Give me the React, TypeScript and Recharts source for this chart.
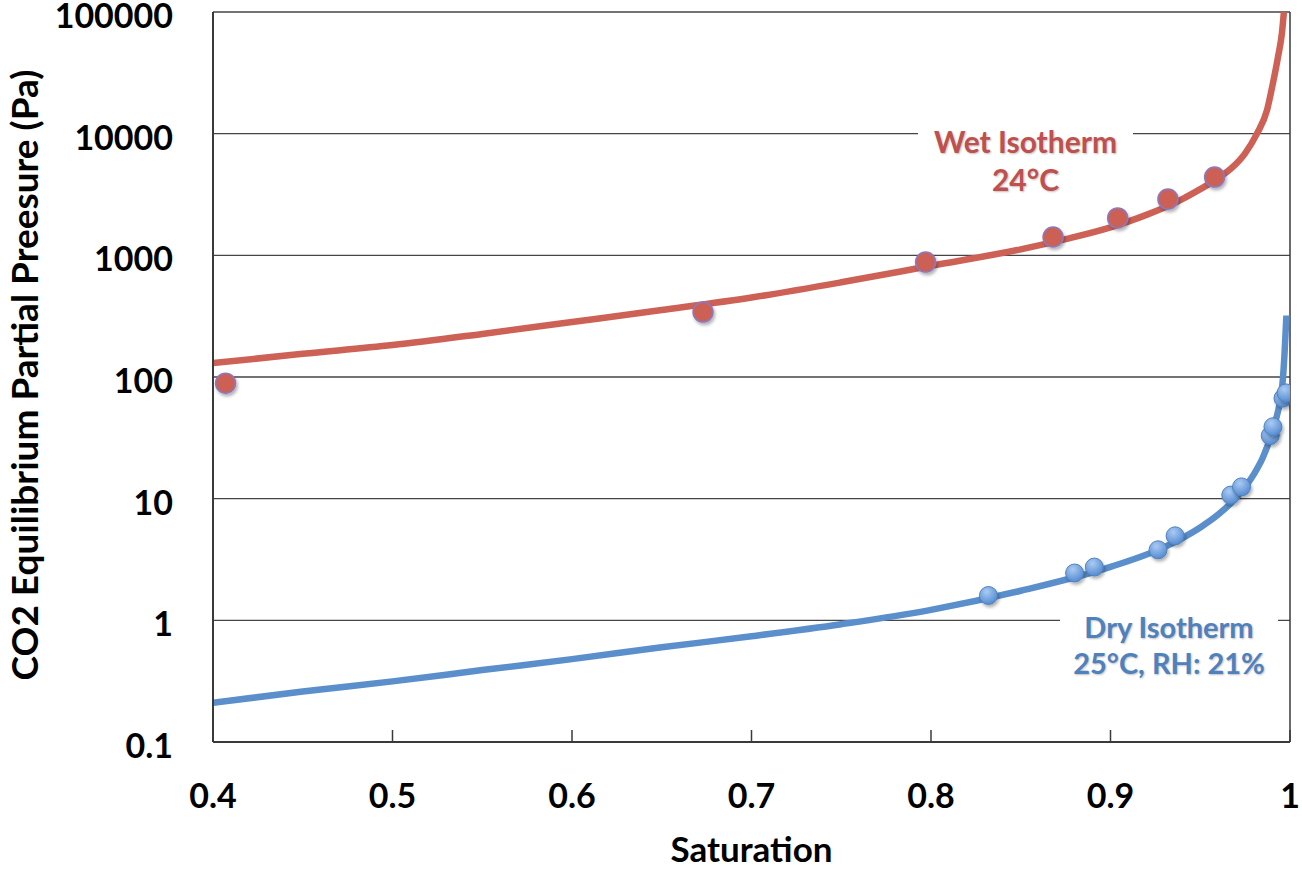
import { ComposedChart, Line, Scatter, XAxis, YAxis, CartesianGrid, ReferenceLine, Label } from "recharts";

// measured points
const wetSat = [0.407, 0.673, 0.797, 0.868, 0.904, 0.932, 0.958];
const wetPres = [89, 342, 880, 1415, 2030, 2900, 4400];

const drySat = [0.832, 0.88, 0.891, 0.9265, 0.936, 0.967, 0.973, 0.989, 0.9905, 0.9961, 0.9978];
const dryPres = [1.6, 2.45, 2.74, 3.8, 4.95, 10.7, 12.5, 33, 39, 67, 74];

// fitted isotherm curves
const wetCurveSat = [0.4, 0.45, 0.5, 0.55, 0.6, 0.65, 0.7, 0.75, 0.8, 0.85, 0.875, 0.9, 0.92, 0.94, 0.95, 0.96, 0.968, 0.975, 0.9816, 0.9872, 0.9905, 0.9933, 0.9955, 0.9966];
const wetCurvePres = [130, 155, 183, 226, 283, 355, 450, 600, 820, 1120, 1360, 1700, 2150, 2900, 3500, 4300, 5300, 6900, 10000, 15600, 26000, 42600, 67000, 100000];

const dryCurveSat = [0.4, 0.45, 0.5, 0.55, 0.6, 0.65, 0.7, 0.75, 0.8, 0.85, 0.9, 0.93, 0.95, 0.96, 0.97, 0.98, 0.985, 0.99, 0.993, 0.995, 0.996, 0.997, 0.998];
const dryCurvePres = [0.21, 0.26, 0.315, 0.39, 0.48, 0.6, 0.74, 0.93, 1.22, 1.75, 2.75, 4.0, 5.8, 7.4, 10.2, 16, 22, 35, 50, 70, 95, 160, 320];

const xTicks = [0.4, 0.5, 0.6, 0.7, 0.8, 0.9, 1];
const yTicks = [0.1, 1, 10, 100, 1000, 10000, 100000];

const zip = (s: number[], p: number[]) => s.map((v, i) => ({ s: v, p: p[i] }));
const wetPts = zip(wetSat, wetPres);
const dryPts = zip(drySat, dryPres);
const wetCurve = zip(wetCurveSat, wetCurvePres);
const dryCurve = zip(dryCurveSat, dryCurvePres);

const FONT = "Lato, 'Open Sans', sans-serif";
const AXIS = "#3a3a3a";
const WET = "#CD6155";
const DRY = "#5A8FCB";

const XTick = ({ x, y, payload }: any) => (
  <g>
    <line x1={x} x2={x} y1={y} y2={y - 12} stroke={AXIS} strokeWidth={1.5} />
    <text x={x} y={y + 66} textAnchor="middle" fontFamily={FONT} fontWeight={700} fontSize={34} fill="#000">
      {String(payload.value)}
    </text>
  </g>
);

const YTick = ({ x, y, payload }: any) => (
  <text x={x - 40} y={y + 16} textAnchor="end" fontFamily={FONT} fontWeight={700} fontSize={34} fill="#000">
    {String(payload.value)}
  </text>
);

const WetDot = (props: any) => (
  <circle cx={props.cx} cy={props.cy} r={10} fill={WET} stroke="#8C78BE" strokeWidth={1.5} filter="url(#dotShadow)" />
);

const DryDot = (props: any) => (
  <circle cx={props.cx} cy={props.cy} r={9} fill="url(#dryGrad)" stroke="#4F81BD" strokeWidth={1} filter="url(#dotShadow)" />
);

const labelStyle = {
  position: "absolute" as const,
  background: "#fff",
  textAlign: "center" as const,
  fontFamily: FONT,
  fontWeight: 700,
  textShadow: "1px 1px 2px rgba(0,0,0,0.25)",
};

export default function App() {
  return (
    <div style={{ position: "absolute", left: 0, top: 0, width: 1302, height: 870, background: "#fff" }}>
      <ComposedChart width={1302} height={870} margin={{ top: 12, right: 12, bottom: 0, left: 0 }}>
        <defs>
          <radialGradient id="dryGrad" cx="40%" cy="30%" r="75%">
            <stop offset="0%" stopColor="#A9CBF3" />
            <stop offset="100%" stopColor="#4F86CF" />
          </radialGradient>
          <filter id="dotShadow" x="-50%" y="-50%" width="200%" height="200%">
            <feDropShadow dx="1.5" dy="2.5" stdDeviation="1.8" floodColor="#000" floodOpacity="0.3" />
          </filter>
        </defs>
        <CartesianGrid vertical={false} stroke="#454545" strokeWidth={1.3} />
        <XAxis
          dataKey="s"
          type="number"
          domain={[0.4, 1]}
          ticks={xTicks}
          allowDataOverflow
          height={128}
          tickSize={0}
          tickMargin={0}
          tick={<XTick />}
          axisLine={{ stroke: AXIS, strokeWidth: 2 }}
        >
          <Label
            content={({ viewBox }: any) => (
              <text x={viewBox.x + viewBox.width / 2} y={viewBox.y + 120} textAnchor="middle" fontFamily={FONT} fontWeight={700} fontSize={35} fill="#000">
                Saturation
              </text>
            )}
          />
        </XAxis>
        <YAxis
          type="number"
          scale="log"
          domain={[0.1, 100000]}
          ticks={yTicks}
          allowDataOverflow
          width={213}
          tickSize={0}
          tickMargin={0}
          tick={<YTick />}
          axisLine={{ stroke: AXIS, strokeWidth: 2 }}
        >
          <Label
            content={({ viewBox }: any) => {
              const cx = 38;
              const cy = viewBox.y + viewBox.height / 2 - 2;
              return (
                <text x={cx} y={cy} transform={`rotate(-90, ${cx}, ${cy})`} textAnchor="middle" fontFamily={FONT} fontWeight={700} fontSize={37} fill="#000">
                  CO2 Equilibrium Partial Preesure (Pa)
                </text>
              );
            }}
          />
        </YAxis>
        <ReferenceLine x={1} stroke={AXIS} strokeWidth={1.5} />
        <Line data={wetCurve} dataKey="p" type="monotone" stroke={WET} strokeWidth={6.5} dot={false} isAnimationActive={false} />
        <Line data={dryCurve} dataKey="p" type="monotone" stroke={DRY} strokeWidth={6.5} dot={false} isAnimationActive={false} />
        <Scatter data={wetPts} dataKey="p" shape={<WetDot />} isAnimationActive={false} />
        <Scatter data={dryPts} dataKey="p" shape={<DryDot />} isAnimationActive={false} />
      </ComposedChart>
      <div style={{ ...labelStyle, left: 918, top: 122, width: 215, fontSize: 30, lineHeight: "38px", color: "#C0504D" }}>
        Wet Isotherm
        <br />
        24°C
      </div>
      <div style={{ ...labelStyle, left: 1060, top: 609, width: 218, fontSize: 29, lineHeight: "36px", color: "#4F81BD" }}>
        Dry Isotherm
        <br />
        25°C, RH: 21%
      </div>
    </div>
  );
}
